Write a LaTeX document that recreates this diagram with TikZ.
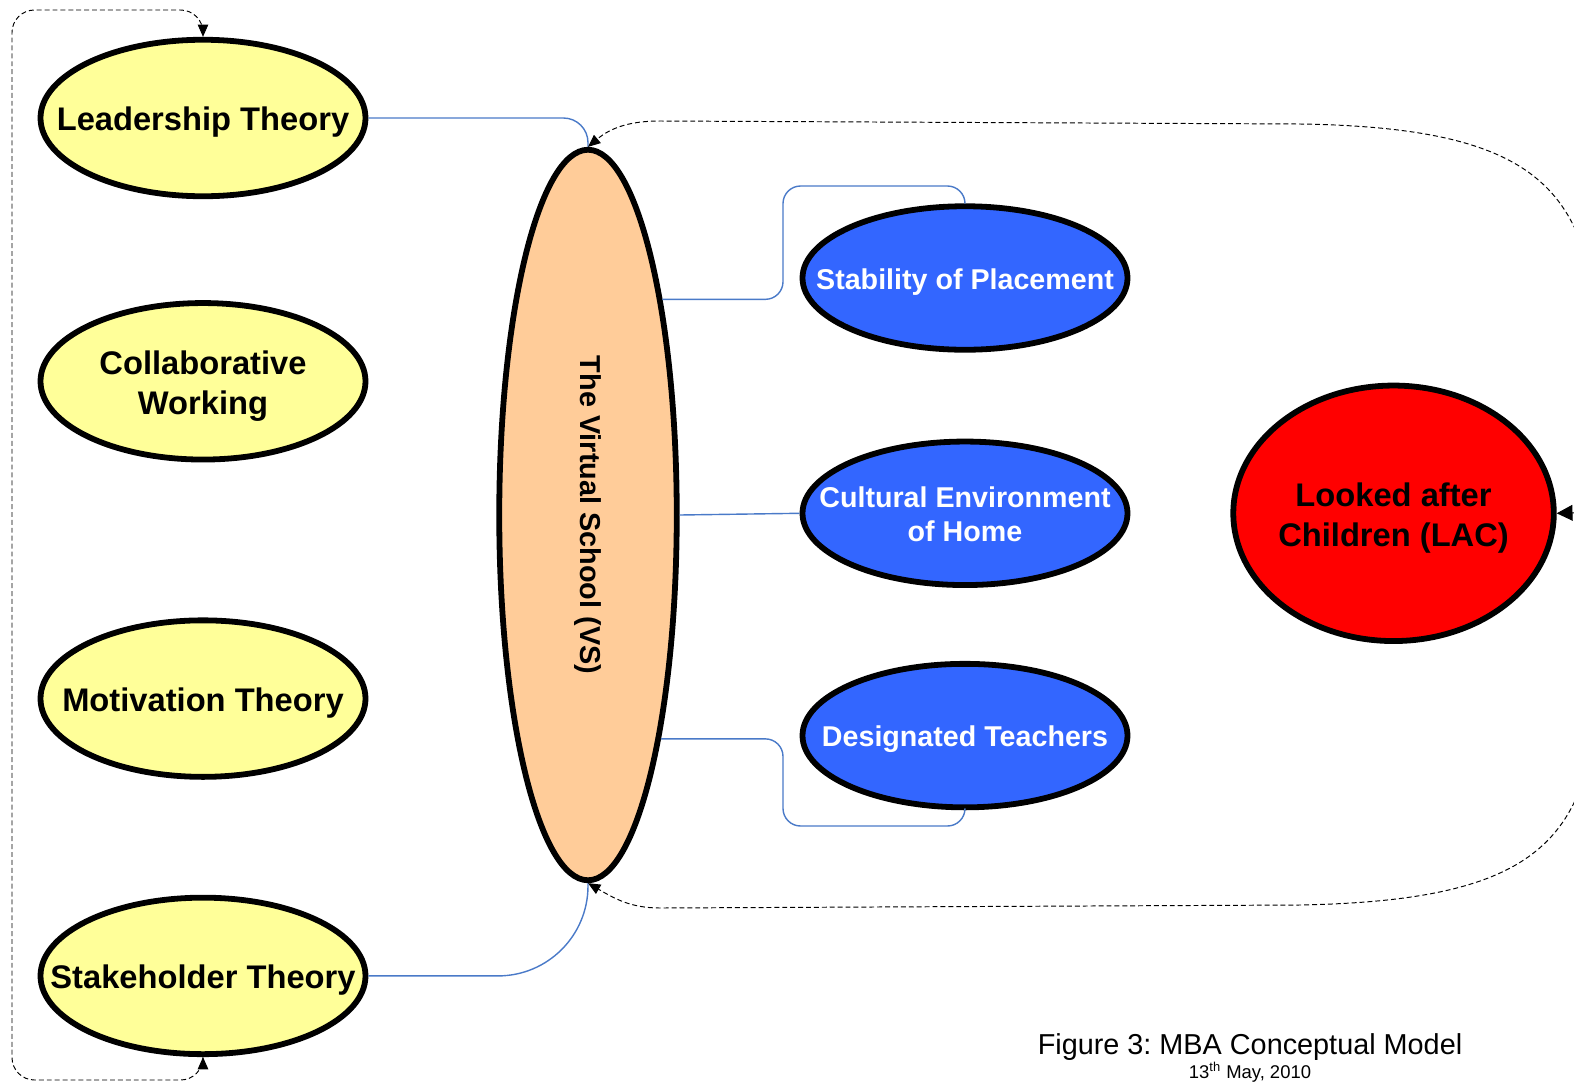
\documentclass[tikz,border=0pt]{standalone}
\usepackage{fontspec}
\setmainfont{Liberation Sans}
\usetikzlibrary{arrows.meta,positioning,shapes.geometric}
\definecolor{theoryfill}{HTML}{FFFF99}
\definecolor{vsfill}{HTML}{FFCC99}
\definecolor{factorfill}{HTML}{3366FF}
\definecolor{lacfill}{HTML}{FF0000}
\definecolor{linkblue}{HTML}{4A7AC8}
\newcommand{\ovaltext}[1]{\makebox[0pt]{\raisebox{-0.15em}[\height][\depth]{\begin{tabular}{@{}c@{}}#1\end{tabular}}}}
\frenchspacing

\begin{document}
\begin{tikzpicture}[node distance=2cm]
\tikzset{
  theory/.style ={ellipse, draw, line width=3.3pt, fill=theoryfill, inner sep=0pt,
                  minimum width=6.5cm, minimum height=3.13cm, font=\bfseries\fontsize{18.6}{22.7}\selectfont},
  factor/.style ={ellipse, draw, line width=3.3pt, fill=factorfill, text=white, inner sep=0pt,
                  minimum width=6.5cm, minimum height=2.87cm, font=\bfseries\fontsize{16.3}{19.8}\selectfont},
  vsbox/.style  ={ellipse, draw, line width=3.3pt, fill=vsfill, inner sep=0pt,
                  minimum width=3.55cm, minimum height=14.61cm, font=\bfseries\fontsize{16.4}{19.8}\selectfont},
  lacbox/.style ={ellipse, draw, line width=3.3pt, fill=lacfill, inner sep=0pt,
                  minimum width=6.41cm, minimum height=5.11cm, font=\bfseries\fontsize{18.6}{22.7}\selectfont},
  link/.style={draw=linkblue, line width=0.8pt},
  loopline/.style={line width=0.55pt, dash pattern=on 2.8pt off 1.7pt},
  tipS/.style={-{Triangle[length=7pt,width=6pt]}},
  tipL/.style={-{Triangle[length=9pt,width=9pt]}}
}
\useasboundingbox (0,0) rectangle (31.48,-21.76);
% theories on the left
\node (lead)[theory] at (4.06,-2.36) {\ovaltext{Leadership Theory}};
\node (collab)[theory,below=2.02cm of lead]{\ovaltext{Collaborative\\Working}};
\node (motiv)[theory,below=3.1cm of collab]{\ovaltext{Motivation Theory}};
\node (stake)[theory,below=2.3cm of motiv]{\ovaltext{Stakeholder Theory}};
% virtual school
\node (vs)[vsbox] at (11.76,-10.3) {\rotatebox{-90}{The Virtual School (VS)}};
% factors
\node (stab)[factor] at (19.3,-5.56) {\ovaltext{Stability of Placement}};
\node (cult)[factor,below=1.72cm of stab]{\ovaltext{Cultural Environment\\of Home}};
\node (desig)[factor,below=1.46cm of cult]{\ovaltext{Designated Teachers}};
\node (lac)[lacbox,right=2cm of cult]{\ovaltext{Looked after\\Children (LAC)}};
% caption
\node (cap)[font=\fontsize{16.4}{19}\selectfont] at (25.0,-20.94) {Figure 3: MBA Conceptual Model};
\node (date)[font=\fontsize{10.5}{12}\selectfont,below=-6pt of cap]{13\textsuperscript{th} May, 2010};
% blue links
\draw[link,rounded corners=14pt](lead.east) -| (vs.north);
\draw[link,rounded corners=1.8cm](stake.east) -| (vs.south);
\draw[link,rounded corners=10pt](vs.71.6) -| (15.66,-3.72) -| (stab.north);
\draw[link](vs.east) -- (cult.west);
\draw[link,rounded corners=10pt](vs.-72.8) -| (15.66,-16.52) -| (desig.south);
% dashed loops
\draw[loopline,{Triangle[length=7pt,width=6pt]}-{Triangle[length=7pt,width=6pt]},rounded corners=0.45cm]
  (lead.north) |- (0.24,-0.2) -- (0.24,-21.6) -| (stake.south);
\coordinate (rim) at (32,-10.24);
\draw[loopline,tipS](rim) -- (32,-8) .. controls (32,-4) and (31.2,-2.56) .. (26,-2.48)
  -- (13.2,-2.42) to[out=180,in=40] (vs.north);
\draw[loopline,tipS](rim) -- (32,-12.6) .. controls (32,-16.6) and (31.2,-18) .. (26,-18.1)
  -- (13.2,-18.16) to[out=180,in=-30] (vs.south);
\draw[loopline,tipL](rim) -- (lac.east);
\end{tikzpicture}
\end{document}
